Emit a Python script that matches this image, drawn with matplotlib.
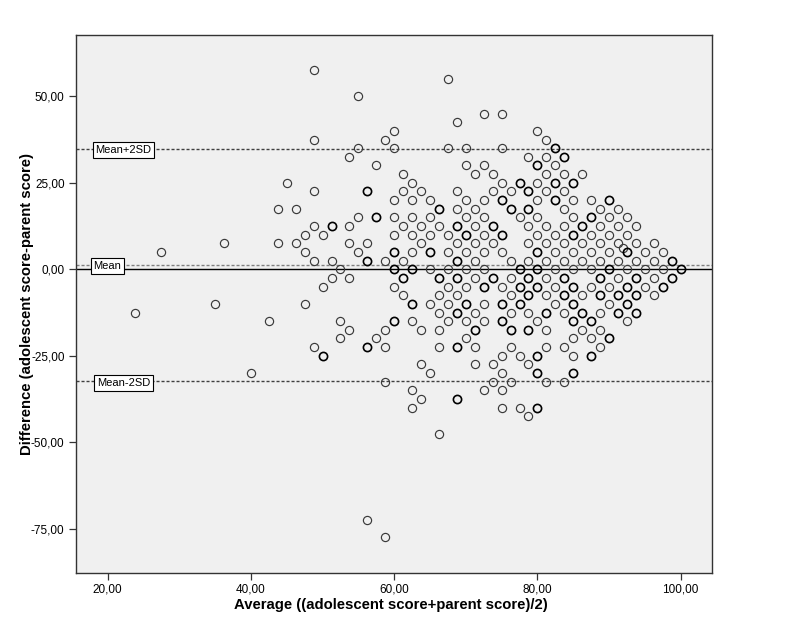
import numpy as np
import matplotlib
matplotlib.use('Agg')
import matplotlib.pyplot as plt

# difference levels (adolescent - parent), one row of the scatter each
diff_levels = [57.5, 55, 50, 45, 42.5, 40, 37.5, 35, 32.5, 30, 27.5, 25, 22.5, 20,
               17.5, 15, 12.5, 10, 7.5, 5, 2.5, 0, -2.5, -5, -7.5, -10, -12.5,
               -15, -17.5, -20, -22.5, -25, -27.5, -30, -32.5, -35, -37.5, -40,
               -42.5, -47.5, -72.5, -77.5]

# averages of single cases on each row
avg_single = [
    [48.75],
    [67.5],
    [55],
    [72.5, 75],
    [68.75],
    [60, 80],
    [48.75, 58.75, 81.25],
    [55, 60, 67.5, 70, 75],
    [53.75, 78.75, 81.25],
    [57.5, 70, 72.5, 82.5],
    [61.25, 71.25, 73.75, 81.25, 83.75, 86.25],
    [45, 62.5, 75, 80],
    [48.75, 61.25, 63.75, 68.75, 73.75, 76.25, 81.25, 83.75],
    [60, 62.5, 65, 70, 72.5, 80, 85, 87.5],
    [43.75, 46.25, 68.75, 71.25, 83.75, 88.75, 91.25],
    [55, 60, 62.5, 65, 70, 72.5, 77.5, 80, 85, 90, 92.5],
    [48.75, 53.75, 61.25, 63.75, 66.25, 71.25, 78.75, 81.25, 83.75, 88.75, 91.25, 93.75],
    [47.5, 50, 60, 62.5, 65, 67.5, 72.5, 80, 82.5, 87.5, 90, 92.5],
    [36.25, 43.75, 46.25, 53.75, 56.25, 63.75, 68.75, 71.25, 73.75, 78.75, 81.25,
     83.75, 86.25, 88.75, 91.25, 93.75, 96.25],
    [27.5, 47.5, 55, 62.5, 67.5, 70, 72.5, 75, 82.5, 85, 87.5, 90, 95, 97.5],
    [48.75, 51.25, 58.75, 61.25, 71.25, 76.25, 78.75, 81.25, 83.75, 86.25, 88.75,
     91.25, 93.75, 96.25],
    [52.5, 65, 67.5, 70, 72.5, 82.5, 85, 87.5, 92.5, 95, 97.5],
    [51.25, 53.75, 71.25, 76.25, 81.25, 91.25, 96.25],
    [50, 60, 67.5, 70, 75, 82.5, 87.5, 90, 95],
    [61.25, 66.25, 68.75, 76.25, 81.25, 86.25, 96.25],
    [35, 47.5, 65, 67.5, 72.5, 82.5, 90],
    [23.75, 66.25, 71.25, 76.25, 78.75, 83.75, 88.75],
    [42.5, 52.5, 62.5, 67.5, 70, 72.5, 80, 92.5],
    [53.75, 58.75, 63.75, 66.25, 81.25, 86.25, 88.75],
    [52.5, 57.5, 70, 85, 87.5],
    [48.75, 58.75, 66.25, 71.25, 76.25, 81.25, 83.75, 88.75],
    [75, 77.5, 85],
    [63.75, 71.25, 73.75, 78.75],
    [40, 65, 75],
    [58.75, 73.75, 76.25, 81.25, 83.75],
    [62.5, 72.5, 75],
    [63.75],
    [62.5, 75, 77.5],
    [78.75],
    [66.25],
    [56.25],
    [58.75],
]

# averages where several cases fall on the same spot (drawn darker)
avg_multi = [
    [], [], [], [], [], [], [],
    [82.5],
    [83.75],
    [80],
    [],
    [77.5, 82.5, 85],
    [56.25, 78.75],
    [75, 82.5, 90],
    [66.25, 76.25, 78.75],
    [57.5, 87.5],
    [51.25, 68.75, 73.75, 86.25],
    [70, 75, 85],
    [],
    [60, 65, 80, 92.5],
    [56.25, 68.75, 98.75],
    [60, 62.5, 77.5, 80, 90, 100],
    [61.25, 66.25, 68.75, 73.75, 78.75, 83.75, 88.75, 93.75, 98.75],
    [72.5, 77.5, 80, 85, 92.5, 97.5],
    [78.75, 83.75, 88.75, 91.25, 93.75],
    [62.5, 70, 75, 77.5, 85, 92.5],
    [68.75, 81.25, 86.25, 91.25, 93.75],
    [60, 75, 85, 87.5],
    [71.25, 76.25, 78.75],
    [90],
    [56.25, 68.75],
    [50, 80, 87.5],
    [],
    [80, 85],
    [],
    [],
    [68.75],
    [80],
    [], [], [], [],
]

# one off-grid case
extra_avg = [91.9]
extra_diff = [6.25]

mean_diff = 1.3
sd_diff = 16.75

tick_x = [20, 40, 60, 80, 100]
tick_y = [-75, -50, -25, 0, 25, 50]


def flatten(rows):
    xs, ys = [], []
    for d, row in zip(diff_levels, rows):
        for a in row:
            xs.append(a)
            ys.append(d)
    return xs, ys


def fmt(v):
    return ('%.2f' % v).replace('.', ',')


x1, y1 = flatten(avg_single)
x2, y2 = flatten(avg_multi)
x1 += extra_avg
y1 += extra_diff

font = ['Liberation Sans', 'DejaVu Sans']

fig = plt.figure(figsize=(7.9, 6.39), dpi=100)
ax = fig.add_axes([0.0958, 0.1038, 0.8058, 0.8419])
ax.set_facecolor('#f0f0f0')

ax.axhline(0, color='black', lw=1.0, zorder=1)
ax.axhline(mean_diff, color='#808080', lw=1.0, dashes=(2.2, 1.4), zorder=1)
ax.axhline(mean_diff + 2 * sd_diff, color='#404040', lw=1.0, dashes=(2.2, 1.4), zorder=1)
ax.axhline(mean_diff - 2 * sd_diff, color='#404040', lw=1.0, dashes=(2.2, 1.4), zorder=1)

ax.plot(x1, y1, 'o', ms=5.9, mfc='none', mec='#3a3a3a', mew=0.85, zorder=3)
ax.plot(x2, y2, 'o', ms=5.9, mfc='none', mec='black', mew=1.2, zorder=3)

box = dict(boxstyle='square,pad=0.25', fc='white', ec='black', lw=0.8)
ax.text(18.3, mean_diff + 2 * sd_diff - 0.3, 'Mean+2SD', fontsize=8,
        family=font, va='center', ha='left', bbox=box, zorder=4)
ax.text(18.0, mean_diff - 0.4, 'Mean', fontsize=8,
        family=font, va='center', ha='left', bbox=box, zorder=4)
ax.text(18.5, mean_diff - 2 * sd_diff - 0.7, 'Mean-2SD', fontsize=8,
        family=font, va='center', ha='left', bbox=box, zorder=4)

ax.set_xlim(15.53, 104.41)
ax.set_ylim(-87.7, 67.8)
ax.set_xticks(tick_x)
ax.set_xticklabels([fmt(v) for v in tick_x], family=font, fontsize=8.5)
ax.set_yticks(tick_y)
ax.set_yticklabels([fmt(v) for v in tick_y], family=font, fontsize=8.5)
ax.tick_params(direction='out', length=5, width=0.9, color='#333333', pad=3)
for s in ax.spines.values():
    s.set_color('#333333')
    s.set_linewidth(1.0)

ax.set_xlabel('Average ((adolescent score+parent score)/2)', family=font,
              fontsize=10.7, fontweight='bold')
ax.set_ylabel('Difference (adolescent score-parent score)', family=font,
              fontsize=10.7, fontweight='bold')
ax.xaxis.set_label_coords(0.495, -0.048)
ax.yaxis.set_label_coords(-0.066, 0.5)

fig.savefig('out.png', dpi=100, facecolor='white')
